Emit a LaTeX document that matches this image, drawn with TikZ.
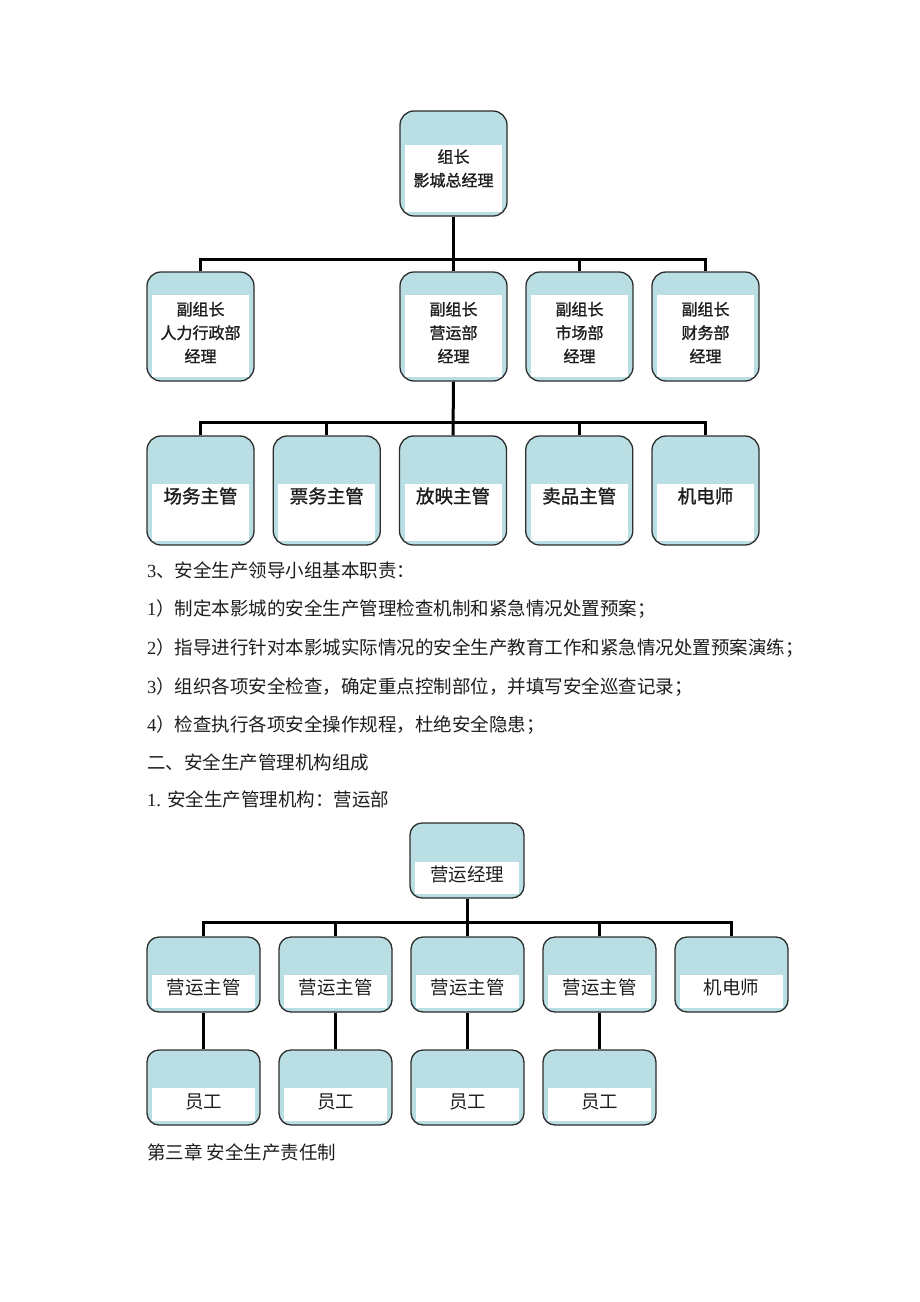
\documentclass[tikz,border=0pt]{standalone}
\usepackage{fontspec}
\setmainfont{Liberation Serif}
\newfontfamily\cjk{Noto Sans CJK SC}
\newfontfamily\cjkb{Noto Sans CJK SC}[FakeBold=1.3]
\usepackage{tikz}
\definecolor{boxcyan}{RGB}{185,223,228}
\definecolor{boxline}{RGB}{45,45,45}
\definecolor{inktext}{RGB}{30,30,30}

\tikzset{
  orgbox/.style={draw=boxline, line width=1.3pt, fill=boxcyan, rounded corners=14pt,
    inner sep=0pt, minimum width=107pt, minimum height=109pt,
    path picture={\fill[white,sharp corners] ([xshift=5pt,yshift=4pt]path picture bounding box.south west)
      rectangle ([xshift=-5pt,yshift=-#1]path picture bounding box.north east);}},
  orgboxb/.style={orgbox=#1, rounded corners=12pt, minimum width=113pt, minimum height=75pt},
  boxtxt/.style={font=\cjkb\fontsize{16}{23.5}\selectfont, align=center, text=inktext, inner sep=0pt},
  boxtxta/.style={font=\cjkb\fontsize{18.5}{22}\selectfont, align=center, text=inktext, inner sep=0pt},
  boxtxtb/.style={font=\cjk\fontsize{18.5}{22}\selectfont, align=center, text=inktext, inner sep=0pt},
  bodytxt/.style={anchor=west, font=\fontsize{18.5}{22}\selectfont, text=inktext, inner sep=0pt},
  conn/.style={line width=3pt, black}
}

\begin{document}
\begin{tikzpicture}[x=1pt,y=-1pt]
\useasboundingbox[fill=white] (0,0) rectangle (920,1302);

% leading group
\node[orgbox=34pt, minimum height=105pt] (gm) at (453.5,163.5) {};
\node[boxtxt] (gm-t) at ([yshift=-5pt]gm.center) {组长\\影城总经理};

\foreach \x/\t [count=\i] in {200.5/人力行政部, 453.5/营运部, 579.5/市场部, 705.5/财务部} {
  \node[orgbox=23pt] (vm\i) at (\x,326.5) {};
  \node[boxtxt] (vm\i-t) at ([yshift=-6pt]vm\i.center) {副组长\\\t\\经理};
}

\foreach \t [count=\i] in {场务主管,票务主管,放映主管,卖品主管,机电师} {
  \node[orgbox=48pt] (sv\i) at ({200.5+126.25*(\i-1)},490.5) {};
  \node[boxtxta] (sv\i-t) at ([yshift=-5.5pt]sv\i.center) {\t};
}

\coordinate (busa) at (0,259);
\coordinate (busb) at (0,422);
\draw[conn] (gm.south) -- (vm2.north);
\draw[conn] (vm1.north) |- (vm4.north |- busa) -- (vm4.north);
\draw[conn] (vm3.north) -- (vm3.north |- busa);
\draw[conn] (vm2.south) -- (sv3.north);
\draw[conn] (sv1.north) |- (sv5.north |- busb) -- (sv5.north);
\foreach \i in {2,4}
  \draw[conn] (sv\i.north) -- (sv\i.north |- busb);

% text
\node[bodytxt] (l1) at (147,570) {3{\cjk 、安全生产领导小组基本职责：}};
\node[bodytxt] (l2) at (147,609) {1{\cjk ）制定本影城的安全生产管理检查机制和紧急情况处置预案；}};
\node[bodytxt] (l3) at (147,648) {2{\cjk ）指导进行针对本影城实际情况的安全生产教育工作和紧急情况处置预案演练；}};
\node[bodytxt] (l4) at (147,687) {3{\cjk ）组织各项安全检查，确定重点控制部位，并填写安全巡查记录；}};
\node[bodytxt] (l5) at (147,725) {4{\cjk ）检查执行各项安全操作规程，杜绝安全隐患；}};
\node[bodytxt] (l6) at (147,762) {{\cjk 二、安全生产管理机构组成}};
\node[bodytxt] (l7) at (147,799) {1. {\cjk 安全生产管理机构：营运部}};
\node[bodytxt] (l8) at (147,1152) {{\cjk 第三章 安全生产责任制}};

% operations
\node[orgboxb=39pt, minimum width=114pt] (om) at (467,860.5) {};
\node[boxtxtb] (om-t) at ([yshift=-14pt]om.center) {营运经理};

\foreach \t [count=\i] in {营运主管,营运主管,营运主管,营运主管,机电师} {
  \node[orgboxb=38pt] (os\i) at ({203.5+132*(\i-1)},974.5) {};
  \node[boxtxtb] (os\i-t) at ([yshift=-12.5pt]os\i.center) {\t};
}
\foreach \i in {1,...,4} {
  \node[orgboxb=38pt] (st\i) at ({203.5+132*(\i-1)},1087.5) {};
  \node[boxtxtb] (st\i-t) at ([yshift=-14pt]st\i.center) {员工};
  \draw[conn] (os\i.south) -- (st\i.north);
}

\coordinate (busc) at (0,922);
\draw[conn] (om.south) -- (om.south |- busc);
\draw[conn] (os1.north) |- (os5.north |- busc) -- (os5.north);
\foreach \i in {2,3,4}
  \draw[conn] (os\i.north) -- (os\i.north |- busc);
\end{tikzpicture}
\end{document}
